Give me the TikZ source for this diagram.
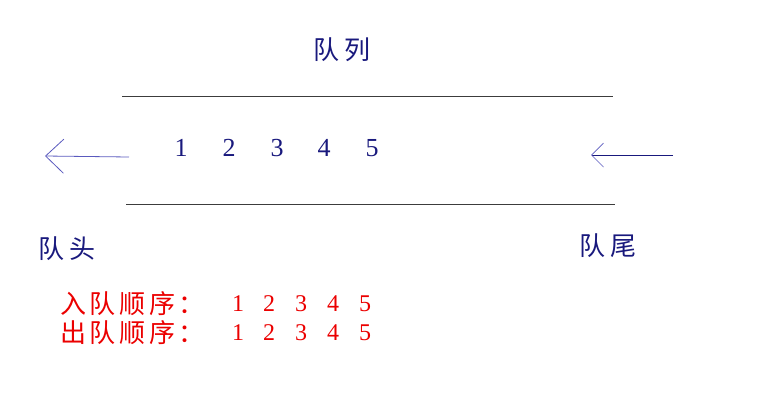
\documentclass[tikz,border=0pt]{standalone}
\usepackage{fontspec}
\setmainfont{Liberation Serif}
\newfontfamily\cjk[LetterSpace=22]{Noto Sans CJK SC}
\newfontfamily\cjkred[LetterSpace=14]{Noto Sans CJK SC}
\usetikzlibrary{arrows.meta}
\definecolor{navy}{RGB}{25,25,125}
\definecolor{arrowblue}{RGB}{90,90,190}
\definecolor{linegray}{RGB}{60,60,60}
\definecolor{qred}{RGB}{235,0,0}
\tikzset{
  title/.style={text=navy,font=\cjk\fontsize{26}{28}\selectfont,inner sep=0pt,anchor=west},
  num/.style={text=navy,font=\fontsize{26}{28}\selectfont,inner sep=0pt},
  order/.style={text=qred,font=\cjkred\fontsize{26}{28}\selectfont,inner sep=0pt,anchor=west},
  rnum/.style={text=qred,font=\fontsize{24}{26}\selectfont,inner sep=0pt},
  wall/.style={draw=linegray,line width=0.8pt},
}
\begin{document}
\begin{tikzpicture}[x=1pt,y=-1pt]
\useasboundingbox (0,0) rectangle (782,410);
\node[title] (q) at (313,50) {队列};
\coordinate (t1) at (122,96); \coordinate (t2) at (613,96);
\coordinate (b1) at (126,204); \coordinate (b2) at (615,204);
\draw[wall] (t1) -- (t2);
\draw[wall] (b1) -- (b2);
\foreach \i/\x in {1/181,2/229,3/277,4/324,5/372}
  \node[num] (n\i) at (\x,148) {\i};
\coordinate (la) at (129,157); \coordinate (lb) at (45,156);
\draw[arrowblue,line width=0.8pt,-{Straight Barb[length=18pt,width=34pt,line width=0.8pt]}] (la) -- (lb);
\coordinate (ra) at (673,155); \coordinate (rb) at (591,155);
\draw[navy,line width=0.9pt,-{Straight Barb[length=12pt,width=24pt,line width=0.7pt,color=arrowblue]}] (ra) -- (rb);
\node[title] (head) at (38,249) {队头};
\node[title] (tail) at (579,246) {队尾};
\node[order] (in) at (60,304) {入队顺序：};
\node[order] (out) at (60,333) {出队顺序：};
\foreach \i/\x in {1/238,2/269,3/301,4/333,5/365}{
  \node[rnum] (a\i) at (\x,304) {\i};
  \node[rnum] (c\i) at (\x,333) {\i};
}
\end{tikzpicture}
\end{document}
